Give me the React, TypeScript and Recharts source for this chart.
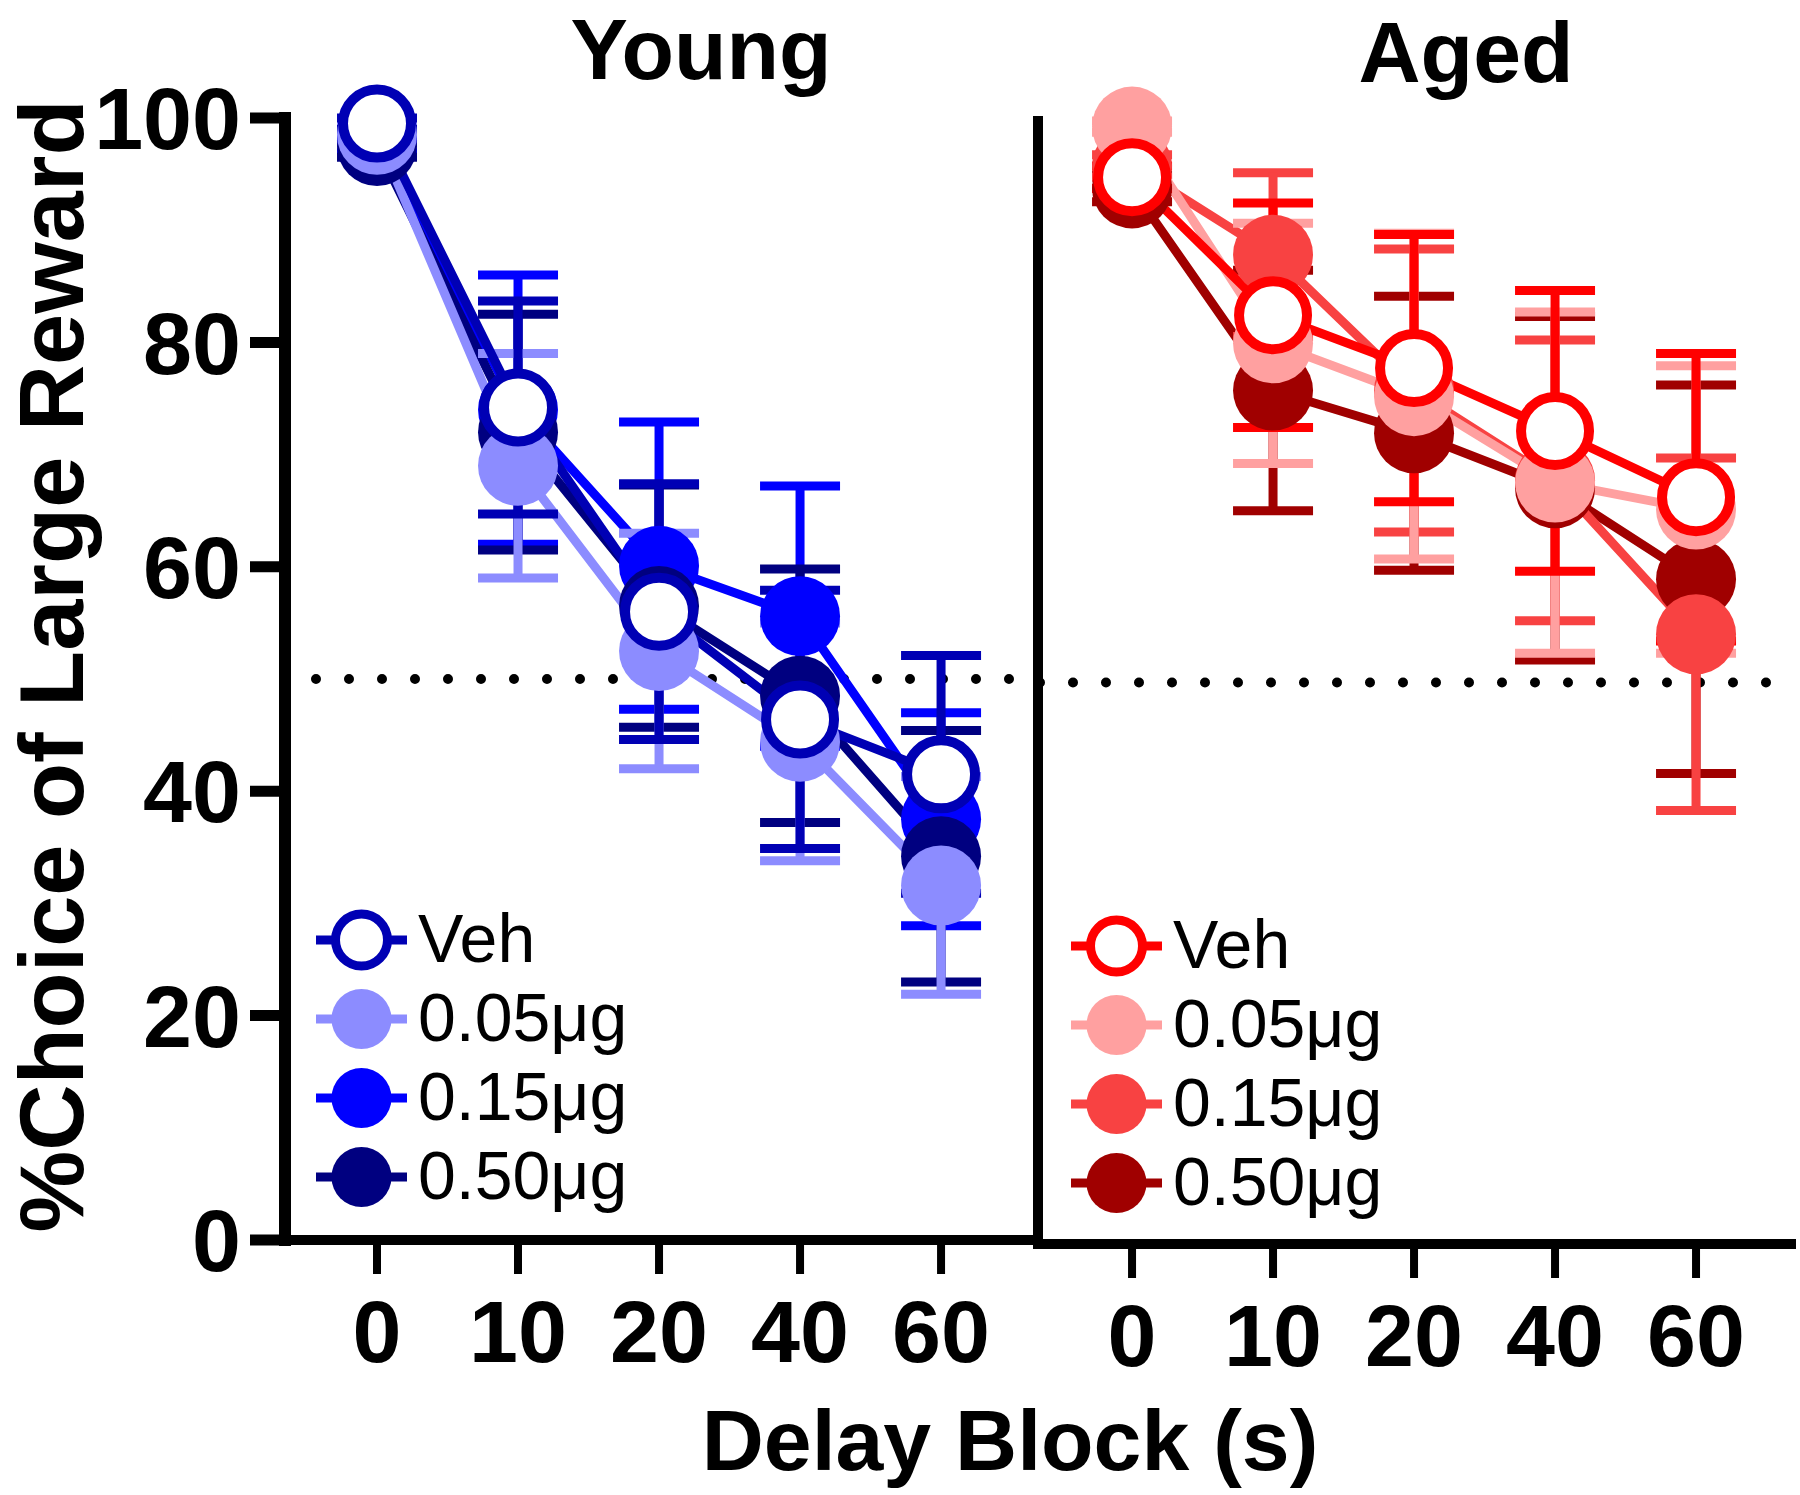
import React from "react";
import {
  LineChart,
  Line,
  XAxis,
  YAxis,
  ErrorBar,
  ReferenceLine,
  Legend,
} from "recharts";

// delay blocks (s) and y ticks
const delayLabels = ["0", "10", "20", "40", "60"];
const yTicks = [0, 20, 40, 60, 80, 100];

// Young rats, mean % choice of large reward and SEM
const youngVeh = [99.5, 74.2, 56.0, 46.4, 41.5];
const youngVehErr = [0.5, 9.5, 11.4, 11.5, 10.6];
const young005 = [98.5, 69.0, 52.5, 44.4, 31.6];
const young005Err = [0.8, 10.0, 10.5, 10.6, 9.7];
const young015 = [98.0, 74.0, 60.1, 55.6, 37.5];
const young015Err = [0.8, 12.0, 12.8, 11.6, 9.5];
const young050 = [97.5, 72.0, 56.5, 48.5, 34.2];
const young050Err = [1.0, 10.5, 10.8, 11.3, 11.2];

// Aged rats
const agedVeh = [95.0, 82.7, 78.0, 72.4, 66.5];
const agedVehErr = [1.0, 10.0, 11.9, 12.5, 12.8];
const aged005 = [99.5, 80.2, 75.5, 67.8, 65.4];
const aged005Err = [0.5, 10.7, 14.5, 15.2, 12.8];
const aged015 = [96.0, 88.1, 76.0, 68.0, 54.3];
const aged015Err = [1.0, 7.3, 12.6, 12.5, 15.7];
const aged050 = [94.0, 76.0, 72.2, 67.3, 59.2];
const aged050Err = [1.2, 10.7, 12.2, 15.3, 17.3];

const FONT = '"Liberation Sans", Arial, Helvetica, sans-serif';

type Series = {
  key: string;
  name: string;
  color: string;
  open: boolean;
  mean: number[];
  err: number[];
};

// listed back to front (Veh drawn last, on top)
const youngSeries: Series[] = [
  { key: "d15", name: "0.15μg", color: "#0000FF", open: false, mean: young015, err: young015Err },
  { key: "d50", name: "0.50μg", color: "#000080", open: false, mean: young050, err: young050Err },
  { key: "d05", name: "0.05μg", color: "#8C8CFF", open: false, mean: young005, err: young005Err },
  { key: "veh", name: "Veh", color: "#0000B4", open: true, mean: youngVeh, err: youngVehErr },
];

const agedSeries: Series[] = [
  { key: "d50", name: "0.50μg", color: "#A00000", open: false, mean: aged050, err: aged050Err },
  { key: "d15", name: "0.15μg", color: "#F84242", open: false, mean: aged015, err: aged015Err },
  { key: "d05", name: "0.05μg", color: "#FFA0A0", open: false, mean: aged005, err: aged005Err },
  { key: "veh", name: "Veh", color: "#FF0000", open: true, mean: agedVeh, err: agedVehErr },
];

const legendOrder = ["veh", "d05", "d15", "d50"];

function buildRows(series: Series[]) {
  return delayLabels.map((label, i) => {
    const row: Record<string, number | string> = { x: i, label };
    series.forEach((s) => {
      row[s.key] = s.mean[i];
      row[s.key + "Err"] = s.err[i];
    });
    return row;
  });
}

const W = 1800;
const H = 1495;
const X_AXIS_H = 120;

function LegendBlock({ series, x0, y0 }: { series: Series[]; x0: number; y0: number }) {
  const items = legendOrder.map((k) => series.find((s) => s.key === k)!);
  return (
    <svg width={360} height={380} style={{ position: "absolute", left: x0 - 10, top: y0 - 45 }}>
      {items.map((s, i) => {
        const cy = 45 + i * 79;
        return (
          <g key={s.key}>
            <line x1={10} x2={101} y1={cy} y2={cy} stroke={s.color} strokeWidth={9} />
            {s.open ? (
              <circle cx={55.5} cy={cy} r={26} fill="#fff" stroke={s.color} strokeWidth={9} />
            ) : (
              <circle cx={55.5} cy={cy} r={30} fill={s.color} />
            )}
            <text x={112} y={cy + 22} fontSize={68} fontFamily={FONT} fill="#000">
              {s.name}
            </text>
          </g>
        );
      })}
    </svg>
  );
}

type PanelProps = {
  series: Series[];
  left: number;
  right: number;
  top: number;
  bottom: number;
  xDomain: [number, number];
  yAxisWidth: number;
  showYTicks: boolean;
  legendX: number;
  legendY: number;
  dotOffset: number;
};

function Panel(p: PanelProps) {
  const rows = buildRows(p.series);
  const tickFont = { fill: "#000", fontSize: 88, fontWeight: 700, fontFamily: FONT };
  return (
    <LineChart
      width={W}
      height={H}
      data={rows}
      margin={{
        top: p.top,
        right: W - p.right,
        bottom: H - p.bottom - X_AXIS_H,
        left: p.left - p.yAxisWidth,
      }}
      style={{ position: "absolute", left: 0, top: 0 }}
    >
      <XAxis
        type="number"
        dataKey="x"
        domain={p.xDomain}
        ticks={[0, 1, 2, 3, 4]}
        interval={0}
        tickFormatter={(v: number) => delayLabels[v]}
        height={X_AXIS_H}
        tickSize={34}
        tickMargin={26}
        axisLine={{ stroke: "#000", strokeWidth: 10 }}
        tickLine={{ stroke: "#000", strokeWidth: 8 }}
        tick={tickFont}
      />
      <YAxis
        type="number"
        domain={[0, 100]}
        ticks={yTicks}
        interval={0}
        width={p.yAxisWidth}
        tickSize={p.showYTicks ? 35 : 0}
        tickMargin={9}
        axisLine={{ stroke: "#000", strokeWidth: p.showYTicks ? 12 : 10, strokeLinecap: "square" }}
        tickLine={p.showYTicks ? { stroke: "#000", strokeWidth: 11 } : false}
        tick={p.showYTicks ? tickFont : false}
      />
      <ReferenceLine
        y={50}
        stroke="#000"
        strokeWidth={10}
        strokeLinecap="round"
        strokeDasharray="0 33"
        strokeDashoffset={p.dotOffset}
      />
      {p.series.map((s) => (
        <Line
          key={s.key}
          type="linear"
          dataKey={s.key}
          name={s.name}
          stroke={s.color}
          strokeWidth={9}
          isAnimationActive={false}
          activeDot={false}
          dot={
            s.open
              ? { r: 34, fill: "#fff", stroke: s.color, strokeWidth: 10, clipDot: false }
              : { r: 40, fill: s.color, stroke: s.color, strokeWidth: 0, clipDot: false }
          }
        >
          <ErrorBar
            dataKey={s.key + "Err"}
            direction="y"
            width={40}
            stroke={s.color}
            strokeWidth={9}
            isAnimationActive={false}
          />
        </Line>
      ))}
      <Legend
        layout="horizontal"
        verticalAlign="middle"
        align="center"
        wrapperStyle={{ position: "absolute", left: 0, top: 0, width: W, height: H, pointerEvents: "none" }}
        content={() => <LegendBlock series={p.series} x0={p.legendX} y0={p.legendY} />}
      />
    </LineChart>
  );
}

export default function App() {
  return (
    <div style={{ position: "absolute", left: 0, top: 0, width: W, height: H, background: "#fff" }}>
      <Panel
        series={youngSeries}
        left={285}
        right={1038}
        top={118}
        bottom={1240}
        xDomain={[-0.6525, 4.6875]}
        yAxisWidth={285}
        showYTicks
        legendX={316}
        legendY={940}
        dotOffset={2}
      />
      <Panel
        series={agedSeries}
        left={1038}
        right={1796}
        top={121}
        bottom={1244}
        xDomain={[-0.667, 4.709]}
        yAxisWidth={10}
        showYTicks={false}
        legendX={1071}
        legendY={946}
        dotOffset={-2}
      />
      <svg
        width={W}
        height={H}
        style={{ position: "absolute", left: 0, top: 0, pointerEvents: "none" }}
        fontFamily={FONT}
        fontWeight={700}
        fill="#000"
      >
        <text x={701} y={79} fontSize={86} textAnchor="middle">Young</text>
        <text x={1466} y={82} fontSize={86} textAnchor="middle">Aged</text>
        <text x={1010} y={1470} fontSize={86} textAnchor="middle">Delay Block (s)</text>
        <text
          x={83}
          y={666}
          fontSize={90}
          textAnchor="middle"
          textLength={1133}
          lengthAdjust="spacingAndGlyphs"
          transform="rotate(-90 83 666)"
        >
          %Choice of Large Reward
        </text>
      </svg>
    </div>
  );
}
